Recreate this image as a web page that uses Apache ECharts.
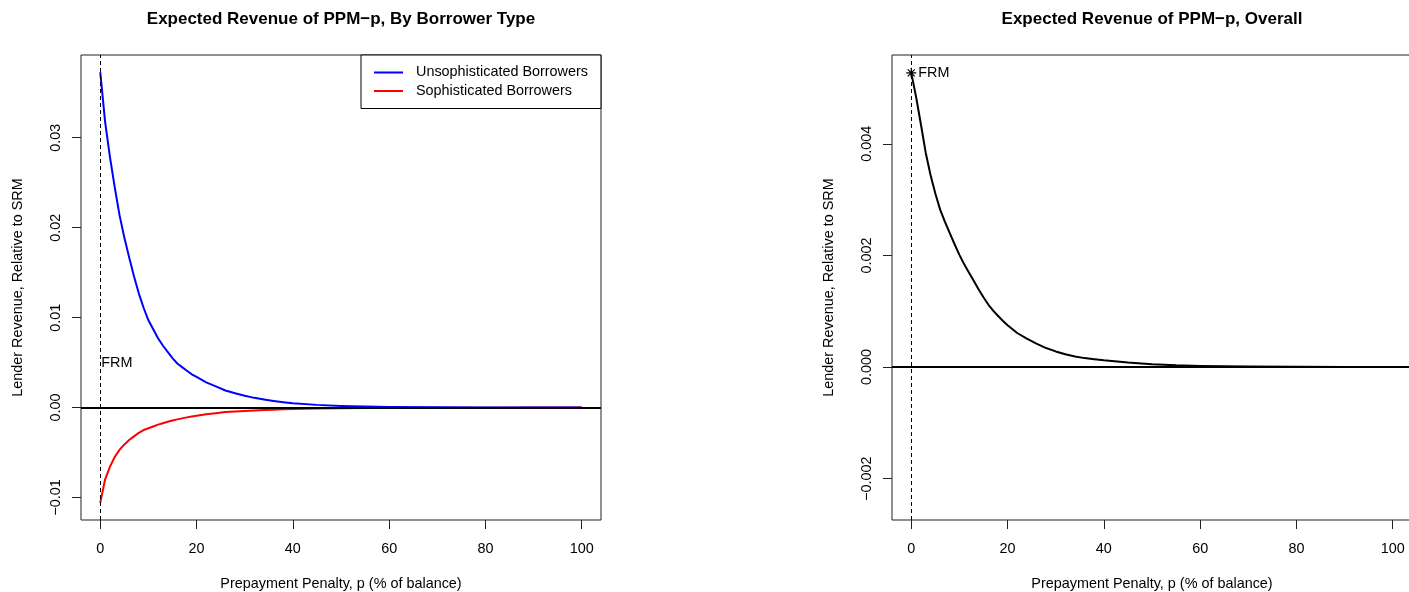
<!DOCTYPE html>
<html>
<head>
<meta charset="utf-8">
<script src="https://cdn.jsdelivr.net/npm/echarts@6/dist/echarts.min.js"></script>
<style>
html,body{margin:0;padding:0;background:#fff;}
#chart{width:1409px;height:592px;}
</style>
</head>
<body>
<div id="chart"></div>
<script>
// ---- data ----
const penalty = [0,1,2,3,4,5,6,7,8,9,10,11,12,13,14,15,16,17,18,19,20,
  22,24,26,28,30,32,34,36,38,40,45,50,55,60,70,80,90,100];
const unsophisticated = [0.0373,0.0318,0.0279,0.0245,0.0214,0.0189,0.0167,0.0146,0.0127,0.0111,0.0097,
  0.0087,0.0077,0.0069,0.0062,0.0055,0.0049,0.0045,0.0041,0.0037,0.0034,
  0.0028,0.00235,0.0019,0.0016,0.00132,0.00108,0.0009,0.00074,0.0006,0.00048,
  0.0003,0.00018,0.00011,0.00007,0.00003,0.000012,0.000005,0.000002];
const sophisticated = [-0.0106,-0.0080,-0.0066,-0.0055,-0.0047,-0.0041,-0.0036,-0.0032,-0.0028,-0.0025,-0.0023,
  -0.0021,-0.0019,-0.00174,-0.00158,-0.00144,-0.00131,-0.0012,-0.00109,-0.00099,-0.0009,
  -0.00075,-0.00062,-0.0005,-0.00044,-0.00038,-0.00032,-0.00028,-0.00023,-0.00019,-0.00016,
  -0.0001,-0.00007,-0.00004,-0.00003,-0.000015,-0.000007,-0.000003,-0.000002];
const overall = [0.00527,0.00484,0.00435,0.00384,0.00344,0.00311,0.00282,0.0026,0.0024,0.0022,0.00201,
  0.00184,0.00169,0.00154,0.00139,0.00125,0.00112,0.00101,0.00092,0.00083,0.00075,
  0.00061,0.00051,0.00042,0.00034,0.00028,0.00023,0.00019,0.00016,0.00014,0.00012,
  0.00008,0.00005,0.00003,0.00002,0.00001,0.000005,0.000002,0.000001];

const xTicks = [0,20,40,60,80,100];
const xTickLabels = ['0','20','40','60','80','100'];
const yTicksLeft = [-0.01,0,0.01,0.02,0.03];
const yTickLabelsLeft = ['\u22120.01','0.00','0.01','0.02','0.03'];
const yTicksRight = [-0.002,0,0.002,0.004];
const yTickLabelsRight = ['\u22120.002','0.000','0.002','0.004'];

const titles = ['Expected Revenue of PPM\u2212p, By Borrower Type','Expected Revenue of PPM\u2212p, Overall'];
const seriesNames = ['Unsophisticated Borrowers','Sophisticated Borrowers'];
const xName = 'Prepayment Penalty, p (% of balance)';
const yName = 'Lender Revenue, Relative to SRM';
const frmLabel = 'FRM';
const frmPenalty = 0;
const frmLabelLeftY = 0.0049;
const zeroLevel = 0;
// axis ranges (R's 4% extension)
const xRange = [-4, 104];
const yRangeLeft = [-0.0125, 0.0392];
const yRangeRight = [-0.00274, 0.00559];

// ---- styling ----
const FONT = "'Liberation Sans', Arial, Helvetica, sans-serif";
const FS = 14.4;
const boxColor = '#222';

function lookup(ticks, labels) {
  return function (v) {
    for (let i = 0; i < ticks.length; i++) {
      if (Math.abs(v - ticks[i]) < 1e-9) return labels[i];
    }
    return '';
  };
}

function xAxisCfg(gi) {
  return {
    type: 'value', gridIndex: gi, min: xRange[0], max: xRange[1], position: 'bottom',
    name: xName, nameLocation: 'middle', nameGap: 57,
    nameTextStyle: {fontFamily: FONT, fontSize: FS, color: '#000'},
    axisLine: {show: false, onZero: false},
    axisTick: {show: true, inside: false, length: 9, customValues: xTicks, lineStyle: {color: boxColor, width: 1}},
    axisLabel: {show: true, customValues: xTicks, formatter: lookup(xTicks, xTickLabels), margin: 22,
      fontFamily: FONT, fontSize: FS, color: '#000'},
    splitLine: {show: false}
  };
}
function yAxisCfg(gi, range, ticks, labels) {
  return {
    type: 'value', gridIndex: gi, min: range[0], max: range[1], position: 'left',
    name: yName, nameLocation: 'middle', nameGap: 56, nameRotate: 90,
    nameTextStyle: {fontFamily: FONT, fontSize: FS, color: '#000'},
    axisLine: {show: false, onZero: false},
    axisTick: {show: true, inside: false, length: 9, customValues: ticks, lineStyle: {color: boxColor, width: 1}},
    axisLabel: {show: true, customValues: ticks, formatter: lookup(ticks, labels), rotate: 90, margin: 18,
      fontFamily: FONT, fontSize: FS, color: '#000'},
    splitLine: {show: false}
  };
}

const zeroMark = {
  silent: true, symbol: ['none','none'], label: {show: false},
  data: [
    {yAxis: zeroLevel, lineStyle: {color: '#000', width: 2, type: 'solid'}},
    {xAxis: frmPenalty, lineStyle: {color: '#000', width: 1, type: [4,3]}}
  ]
};

const asterisk = 'path://M-0.6,-5L0.6,-5L0.6,5L-0.6,5Z M-5,-0.6L5,-0.6L5,0.6L-5,0.6Z M-3.08,-3.92L3.92,3.08L3.08,3.92L-3.92,-3.08Z M-3.92,3.08L3.08,-3.92L3.92,-3.08L-3.08,3.92Z';

const option = {
  backgroundColor: '#fff',
  animation: false,
  title: [
    {text: titles[0], left: 341, top: 11, textAlign: 'center', padding: 0,
      textStyle: {fontFamily: FONT, fontSize: 17, fontWeight: 'bold', color: '#000'}},
    {text: titles[1], left: 1152, top: 11, textAlign: 'center', padding: 0,
      textStyle: {fontFamily: FONT, fontSize: 17, fontWeight: 'bold', color: '#000'}}
  ],
  legend: {
    data: seriesNames, orient: 'vertical', left: 361, top: 55,
    padding: [9, 13, 9, 13], itemGap: 1.5, itemWidth: 29, itemHeight: 2, icon: 'rect',
    borderColor: '#000', borderWidth: 1, backgroundColor: '#fff',
    textStyle: {fontFamily: FONT, fontSize: FS, color: '#000', padding: [0,0,0,8], lineHeight: 17},
    selectedMode: false
  },
  grid: [
    {left: 81, top: 55, width: 520, height: 465, outerBoundsMode: 'none', containLabel: false,
      show: true, borderColor: boxColor, borderWidth: 1, backgroundColor: 'transparent'},
    {left: 892, top: 55, width: 520, height: 465, outerBoundsMode: 'none', containLabel: false,
      show: true, borderColor: boxColor, borderWidth: 1, backgroundColor: 'transparent'}
  ],
  xAxis: [xAxisCfg(0), xAxisCfg(1)],
  yAxis: [
    yAxisCfg(0, yRangeLeft, yTicksLeft, yTickLabelsLeft),
    yAxisCfg(1, yRangeRight, yTicksRight, yTickLabelsRight)
  ],
  series: [
    {
      name: seriesNames[0], type: 'line', xAxisIndex: 0, yAxisIndex: 0,
      data: penalty.map((p, i) => [p, unsophisticated[i]]),
      showSymbol: false, smooth: false,
      lineStyle: {color: '#0000ff', width: 2, join: 'round'}, itemStyle: {color: '#0000ff'},
      markLine: zeroMark, z: 3
    },
    {
      name: seriesNames[1], type: 'line', xAxisIndex: 0, yAxisIndex: 0,
      data: penalty.map((p, i) => [p, sophisticated[i]]),
      showSymbol: false, smooth: false,
      lineStyle: {color: '#ff0000', width: 2, join: 'round'}, itemStyle: {color: '#ff0000'}, z: 2,
      markPoint: {
        silent: true, symbol: 'circle', symbolSize: 0,
        data: [{coord: [frmPenalty, frmLabelLeftY]}],
        label: {show: true, position: 'right', distance: 1, formatter: frmLabel,
          fontFamily: FONT, fontSize: FS, color: '#000'}
      }
    },
    {
      name: 'Overall', type: 'line', xAxisIndex: 1, yAxisIndex: 1,
      data: penalty.map((p, i) => [p, overall[i]]),
      showSymbol: false, smooth: false,
      lineStyle: {color: '#000', width: 2, join: 'round'}, itemStyle: {color: '#000'},
      markLine: zeroMark, z: 3
    },
    {
      name: 'FRM point', type: 'scatter', xAxisIndex: 1, yAxisIndex: 1,
      data: [[penalty[0], overall[0]]],
      symbol: asterisk, symbolSize: 10, itemStyle: {color: '#000', opacity: 1},
      label: {show: true, position: 'right', distance: 2, formatter: frmLabel,
        fontFamily: FONT, fontSize: FS, color: '#000'}, z: 4
    }
  ]
};

const chart = echarts.init(document.getElementById('chart'), null, {renderer: 'canvas'});
chart.setOption(option);
</script>
</body>
</html>
